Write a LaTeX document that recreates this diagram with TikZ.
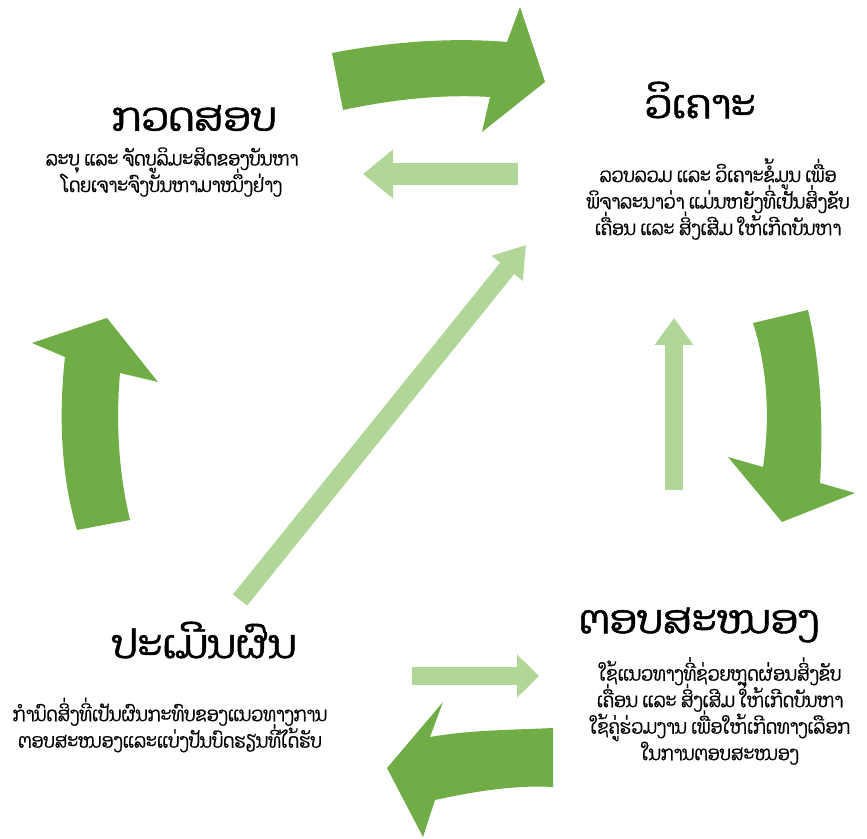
\documentclass[tikz,border=0pt]{standalone}
\usepackage{fontspec}
\newfontfamily\laofont[Script=Lao,FakeBold=1.2]{Dhyana}
\newfontfamily\laonarrow[Script=Lao,FakeStretch=0.87,FakeBold=0.6]{Dhyana}
\usepackage{xcolor}
\usepackage{tikz}
\usetikzlibrary{positioning}
\usetikzlibrary{arrows.meta}

\definecolor{darkleaf}{RGB}{112,173,71}
\definecolor{paleleaf}{RGB}{176,214,152}
\newcommand{\blurbfont}{\laonarrow\fontsize{10}{13.25}\selectfont\lineskiplimit=-10pt\relax}

\begin{document}
\begin{tikzpicture}[
    x=0.5pt, y=-0.5pt,
    heading/.style={font=\laofont\fontsize{20}{24}\selectfont, align=center},
    blurb/.style={font=\blurbfont, align=center},
    bigarrow/.style={fill=darkleaf, draw=none},
    thinarrow/.style={draw=paleleaf, line width=#1}
    ]

    \useasboundingbox (0,0) rectangle (867,839);

    % step titles
    \node[heading] (check) at (194,118) {ກວດສອບ};
    \node[heading] (analyse) at (700,100) {ວິເຄາະ};
    \node[heading] (respond) at (699,625) {ຕອບສະໜອງ};
    \node[heading] (assess) at (204,640) {ປະເມີນຜົນ};

    \node[blurb] (checktxt) at (172,172) {ລະບຸ ແລະ ຈັດບູລິມະສິດຂອງບັນຫາ\\ໂດຍເຈາະຈົງບັນຫາມາໜຶ່ງຢ່າງ};
    \node[blurb] (analysetxt) at (718,199) {ລວບລວມ ແລະ ວິເຄາະຂໍ້ມູນ ເພື່ອ\\ພິຈາລະນາວ່າ ແມ່ນຫຍັງທີ່ເປັນສິ່ງຂັບ\\ເຄື່ອນ ແລະ ສິ່ງເສີມ ໃຫ້ເກີດບັນຫາ};
    \node[blurb] (respondtxt) at (720,711) {ໃຊ້ແນວທາງທີ່ຊ່ວຍຫຼຸດຜ່ອນສິ່ງຂັບ\\ເຄື່ອນ ແລະ ສິ່ງເສີມ ໃຫ້ເກີດບັນຫາ\\ໃຊ້ຄູ່ຮ່ວມງານ ເພື່ອໃຫ້ເກີດທາງເລືອກ\\ໃນການຕອບສະໜອງ};
    \node[blurb] (assesstxt) at (170,725) {ກຳນົດສິ່ງທີ່ເປັນຜົນກະທົບຂອງແນວທາງການ\\ຕອບສະໜອງແລະແບ່ງປັນບົດຮຽນທີ່ໄດ້ຮັບ};

    % curved cycle arrows
    \fill[bigarrow] (332,53) .. controls (400,40) and (460,38) .. (507,42) -- (520,7) -- (545,82)
        -- (482,132) -- (490,97) .. controls (440,94) and (390,100) .. (343,110) -- cycle;
    \fill[bigarrow] (753,323) -- (808,310) .. controls (822,370) and (823,430) .. (820,483)
        -- (855,493) -- (782,522) -- (728,457) -- (763,467) .. controls (770,420) and (768,370) .. (753,323) -- cycle;
    \fill[bigarrow] (553,728) .. controls (510,730) and (470,730) .. (430,737) -- (443,702) -- (387,768)
        -- (423,837) -- (435,800) .. controls (480,790) and (520,785) .. (553,787) -- cycle;
    \fill[bigarrow] (77,530) -- (130,520) .. controls (118,470) and (116,420) .. (120,373) -- (158,382)
        -- (107,318) -- (32,343) -- (65,357) .. controls (58,420) and (62,480) .. (77,530) -- cycle;

    % pale back arrows
    \coordinate (a1) at (518,174);
    \coordinate (a2) at (363,174);
    \coordinate (b1) at (674,490);
    \coordinate (b2) at (674,318);
    \coordinate (c1) at (412,676);
    \coordinate (c2) at (539,676);
    \coordinate (d1) at (240,600);
    \coordinate (d2) at (526,245);

    \draw[thinarrow=11pt, -{Triangle[length=15pt,width=23.5pt]}] (a1) -- (a2);
    \draw[thinarrow=9pt, -{Triangle[length=13.5pt,width=18.5pt]}] (b1) -- (b2);
    \draw[thinarrow=9pt, -{Triangle[length=11pt,width=21pt]}] (c1) -- (c2);
    \draw[thinarrow=9pt, -{Triangle[length=15pt,width=19pt]}] (d1) -- (d2);
  \end{tikzpicture}
\end{document}
